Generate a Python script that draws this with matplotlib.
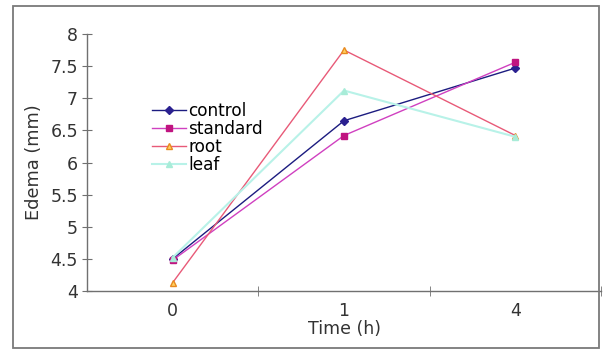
import matplotlib
matplotlib.use("Agg")
import matplotlib.pyplot as plt
from matplotlib.patches import Rectangle

plt.rcParams['font.family'] = ['DejaVu Sans']

times = ['0', '1', '4']
control = [4.50, 6.65, 7.47]
standard = [4.48, 6.42, 7.56]
root = [4.13, 7.75, 6.42]
leaf = [4.52, 7.12, 6.40]

fig = plt.figure(figsize=(6.03, 3.5), dpi=100)
# outer chart border like the excel chart area
fig.patches.append(Rectangle((13 / 603, 2 / 350), 586 / 603, 342 / 350,
                             transform=fig.transFigure, fill=False,
                             edgecolor='#7a7a7a', linewidth=1.3))

ax = fig.add_axes([87 / 603, 59 / 350, 514 / 603, 257 / 350])
x = [0, 1, 2]

ax.plot(x, control, color='#1c1c80', lw=1.0, marker='D', ms=4,
        mfc='#2a2090', mec='#2a2090', label='control')
ax.plot(x, standard, color='#d040c0', lw=1.0, marker='s', ms=5,
        mfc='#c01480', mec='#c01480', label='standard')
ax.plot(x, root, color='#e85a78', lw=1.0, marker='^', ms=5,
        mfc='#ffd060', mec='#e88a20', label='root')
ax.plot(x, leaf, color='#b8f2e8', lw=1.5, marker='^', ms=4,
        mfc='#a8ecd8', mec='#a8ecd8', label='leaf')

ax.set_xlim(-0.5, 2.5)
ax.set_ylim(4, 8)
ax.set_xticks(x)
ax.set_xticklabels(times)
ax.set_xticks([0.5, 1.5, 2.5], minor=True)
ax.set_yticks([4, 4.5, 5, 5.5, 6, 6.5, 7, 7.5, 8])
ax.set_yticklabels(['4', '4.5', '5', '5.5', '6', '6.5', '7', '7.5', '8'])

for s in ['top', 'right']:
    ax.spines[s].set_visible(False)
for s in ['left', 'bottom']:
    ax.spines[s].set_color('#707070')
    ax.spines[s].set_linewidth(1.0)

ax.tick_params(axis='y', direction='inout', length=7, color='#707070',
               labelsize=12.5, labelcolor='#333333', pad=3)
ax.tick_params(axis='x', which='major', length=0, labelsize=12.5,
               labelcolor='#333333', pad=8)
ax.tick_params(axis='x', which='minor', direction='inout', length=7,
               color='#707070')

ax.set_xlabel('Time (h)', fontsize=12.5, color='#333333', labelpad=0)
ax.set_ylabel('Edema (mm)', fontsize=12.8, color='#333333', labelpad=5)

ax.legend(loc='upper left', bbox_to_anchor=(0.104, 0.78), frameon=False,
          fontsize=12.2, handlelength=2.0, handletextpad=0.12,
          labelspacing=0.0, borderpad=0.2)

fig.savefig('out.png', dpi=100)
